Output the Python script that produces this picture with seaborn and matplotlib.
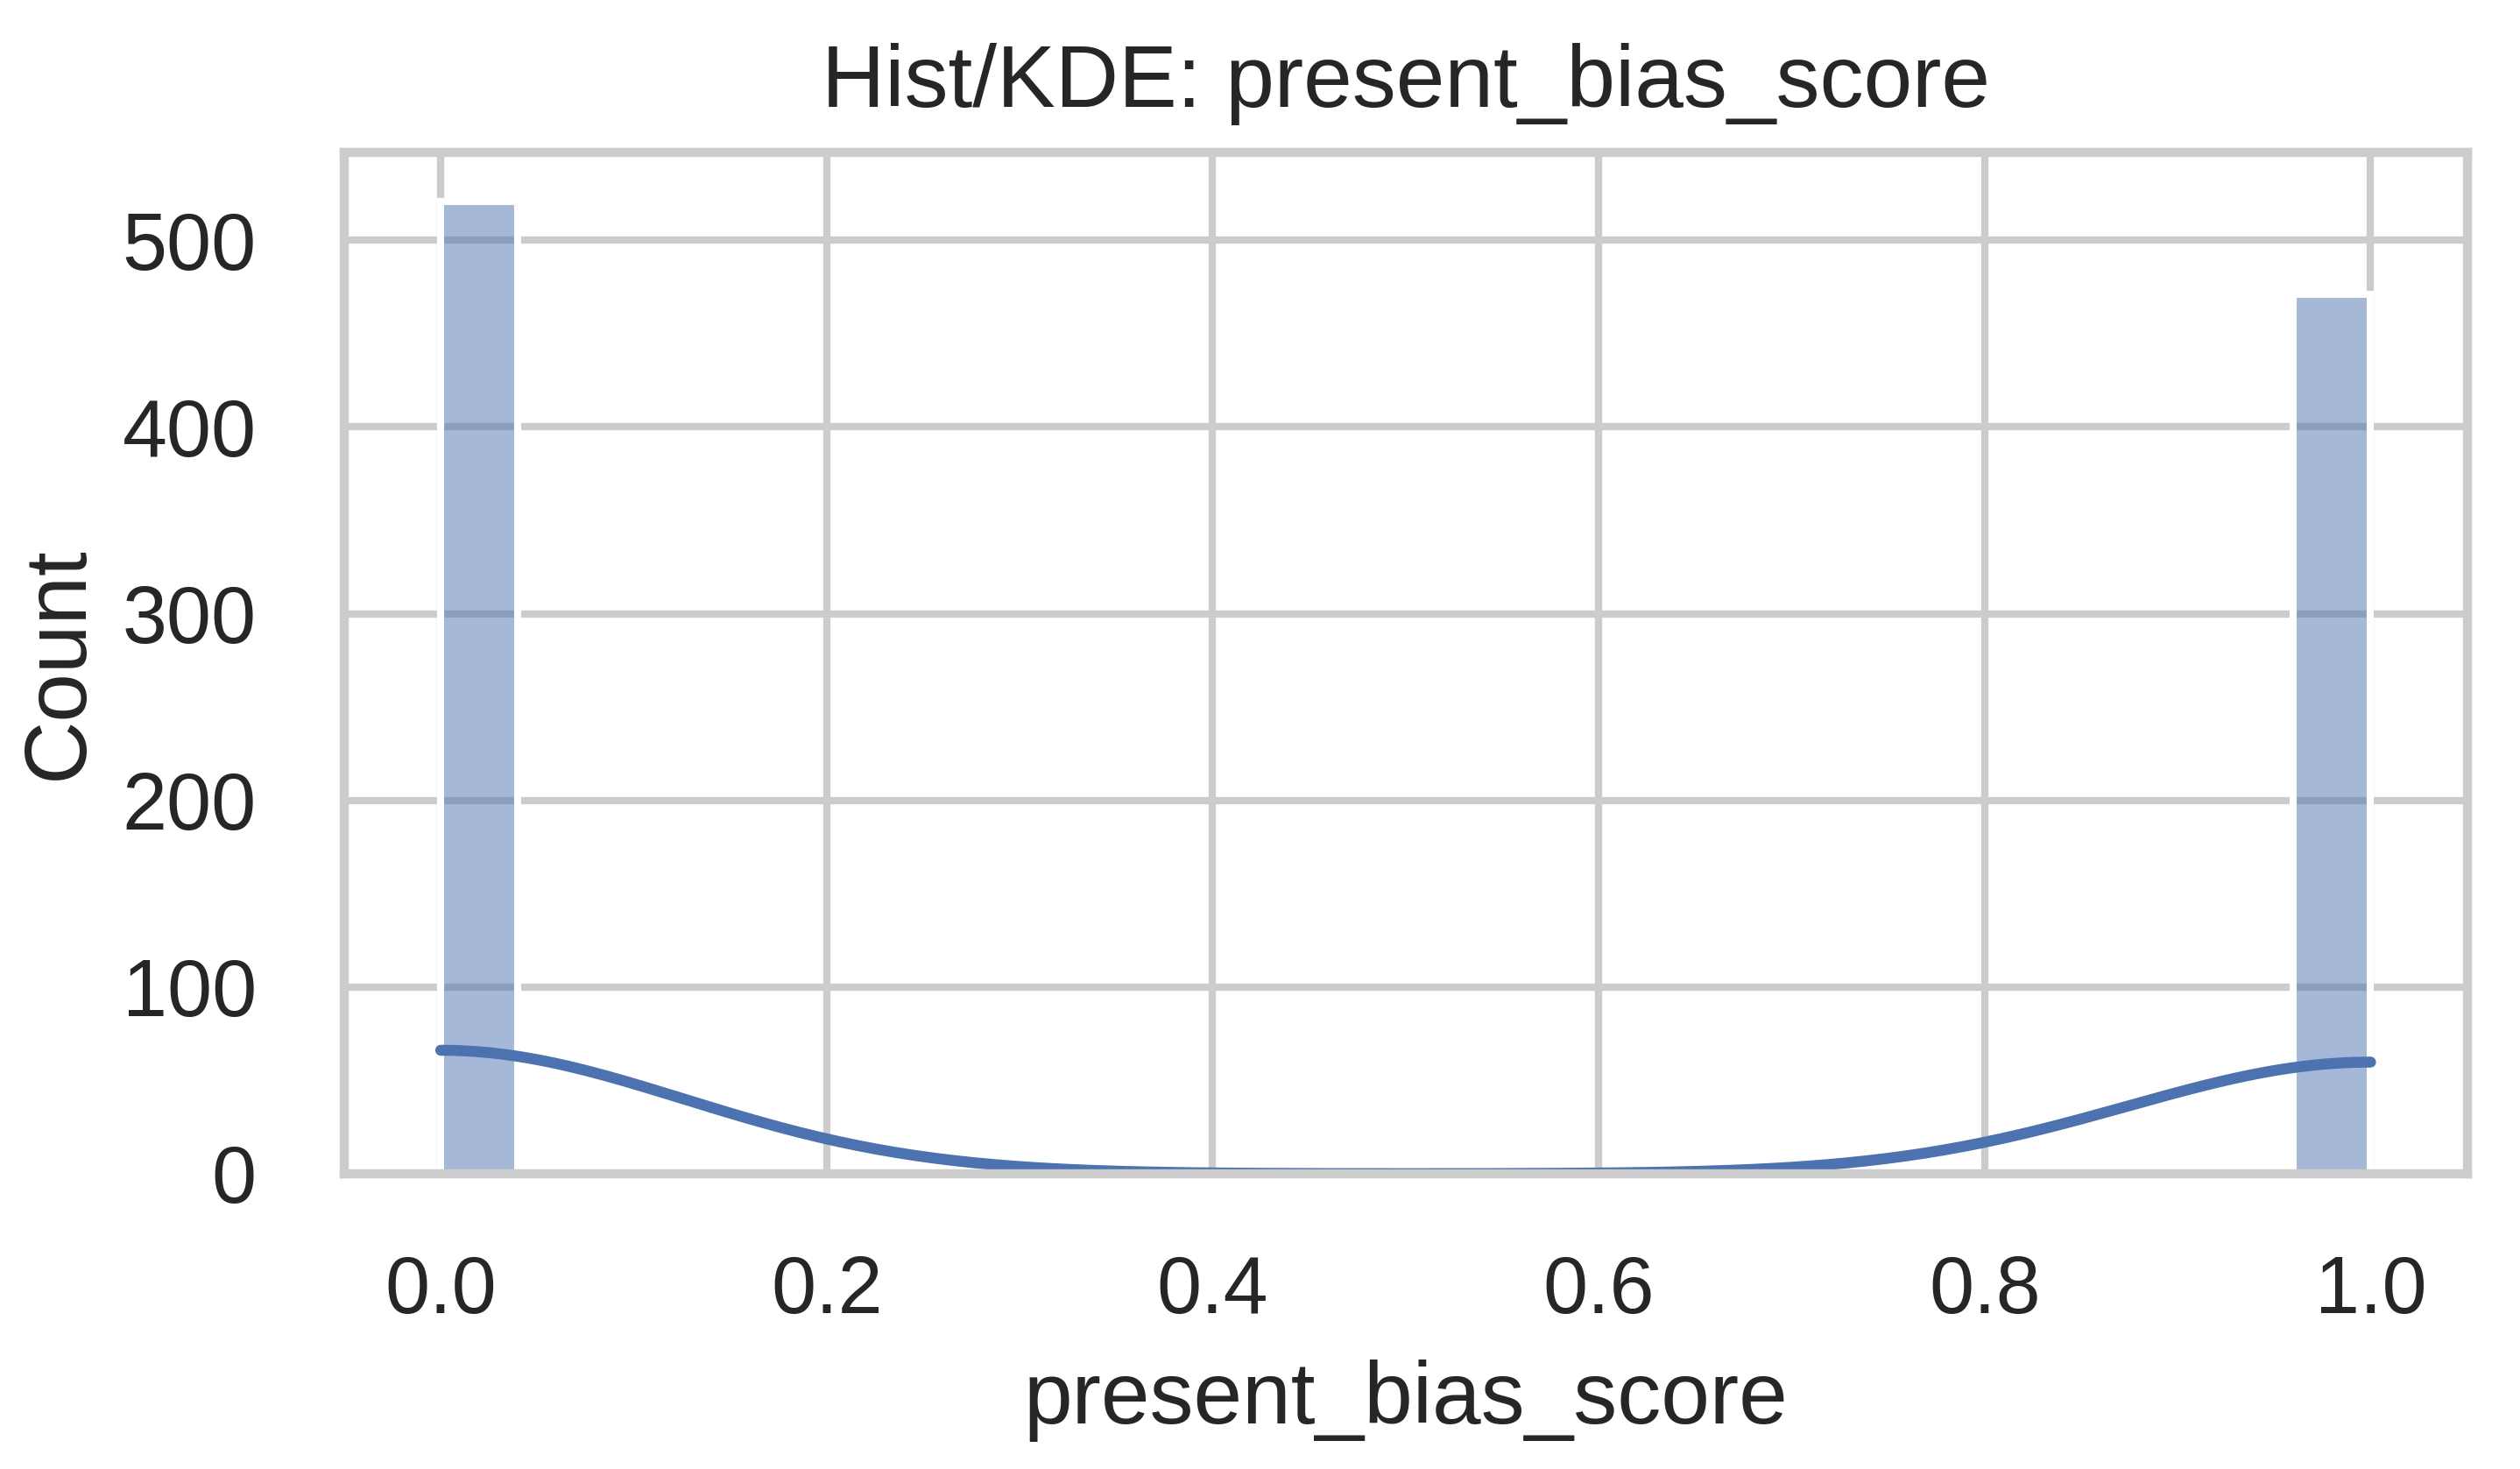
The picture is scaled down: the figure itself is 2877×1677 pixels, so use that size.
import numpy as np
import pandas as pd
import matplotlib
matplotlib.use('Agg')
from matplotlib import pyplot as plt
import seaborn as sns

# counts (score is binary)
score_values = [0.0, 1.0]
score_counts = [521, 471]
n_bins = 25

sns.set_theme(style='whitegrid', context='poster')
plt.rcParams['font.family'] = ['Liberation Sans', 'DejaVu Sans']

df = pd.DataFrame({'present_bias_score': np.repeat(score_values, score_counts)})

fig, ax = plt.subplots(figsize=(2877 / 300, 1677 / 300), dpi=300)
sns.histplot(data=df, x='present_bias_score', bins=n_bins, kde=True, ax=ax)
ax.set_title('Hist/KDE: present_bias_score', pad=12.5)
ax.tick_params(axis='x', pad=10)
ax.tick_params(axis='y', pad=12)
ax.set_xlabel('present_bias_score', labelpad=8.3)
ax.set_ylabel('Count', labelpad=6)
plt.subplots_adjust(left=0.1366, right=0.979, top=0.8962, bottom=0.201)
plt.savefig('out.png', dpi=300)
